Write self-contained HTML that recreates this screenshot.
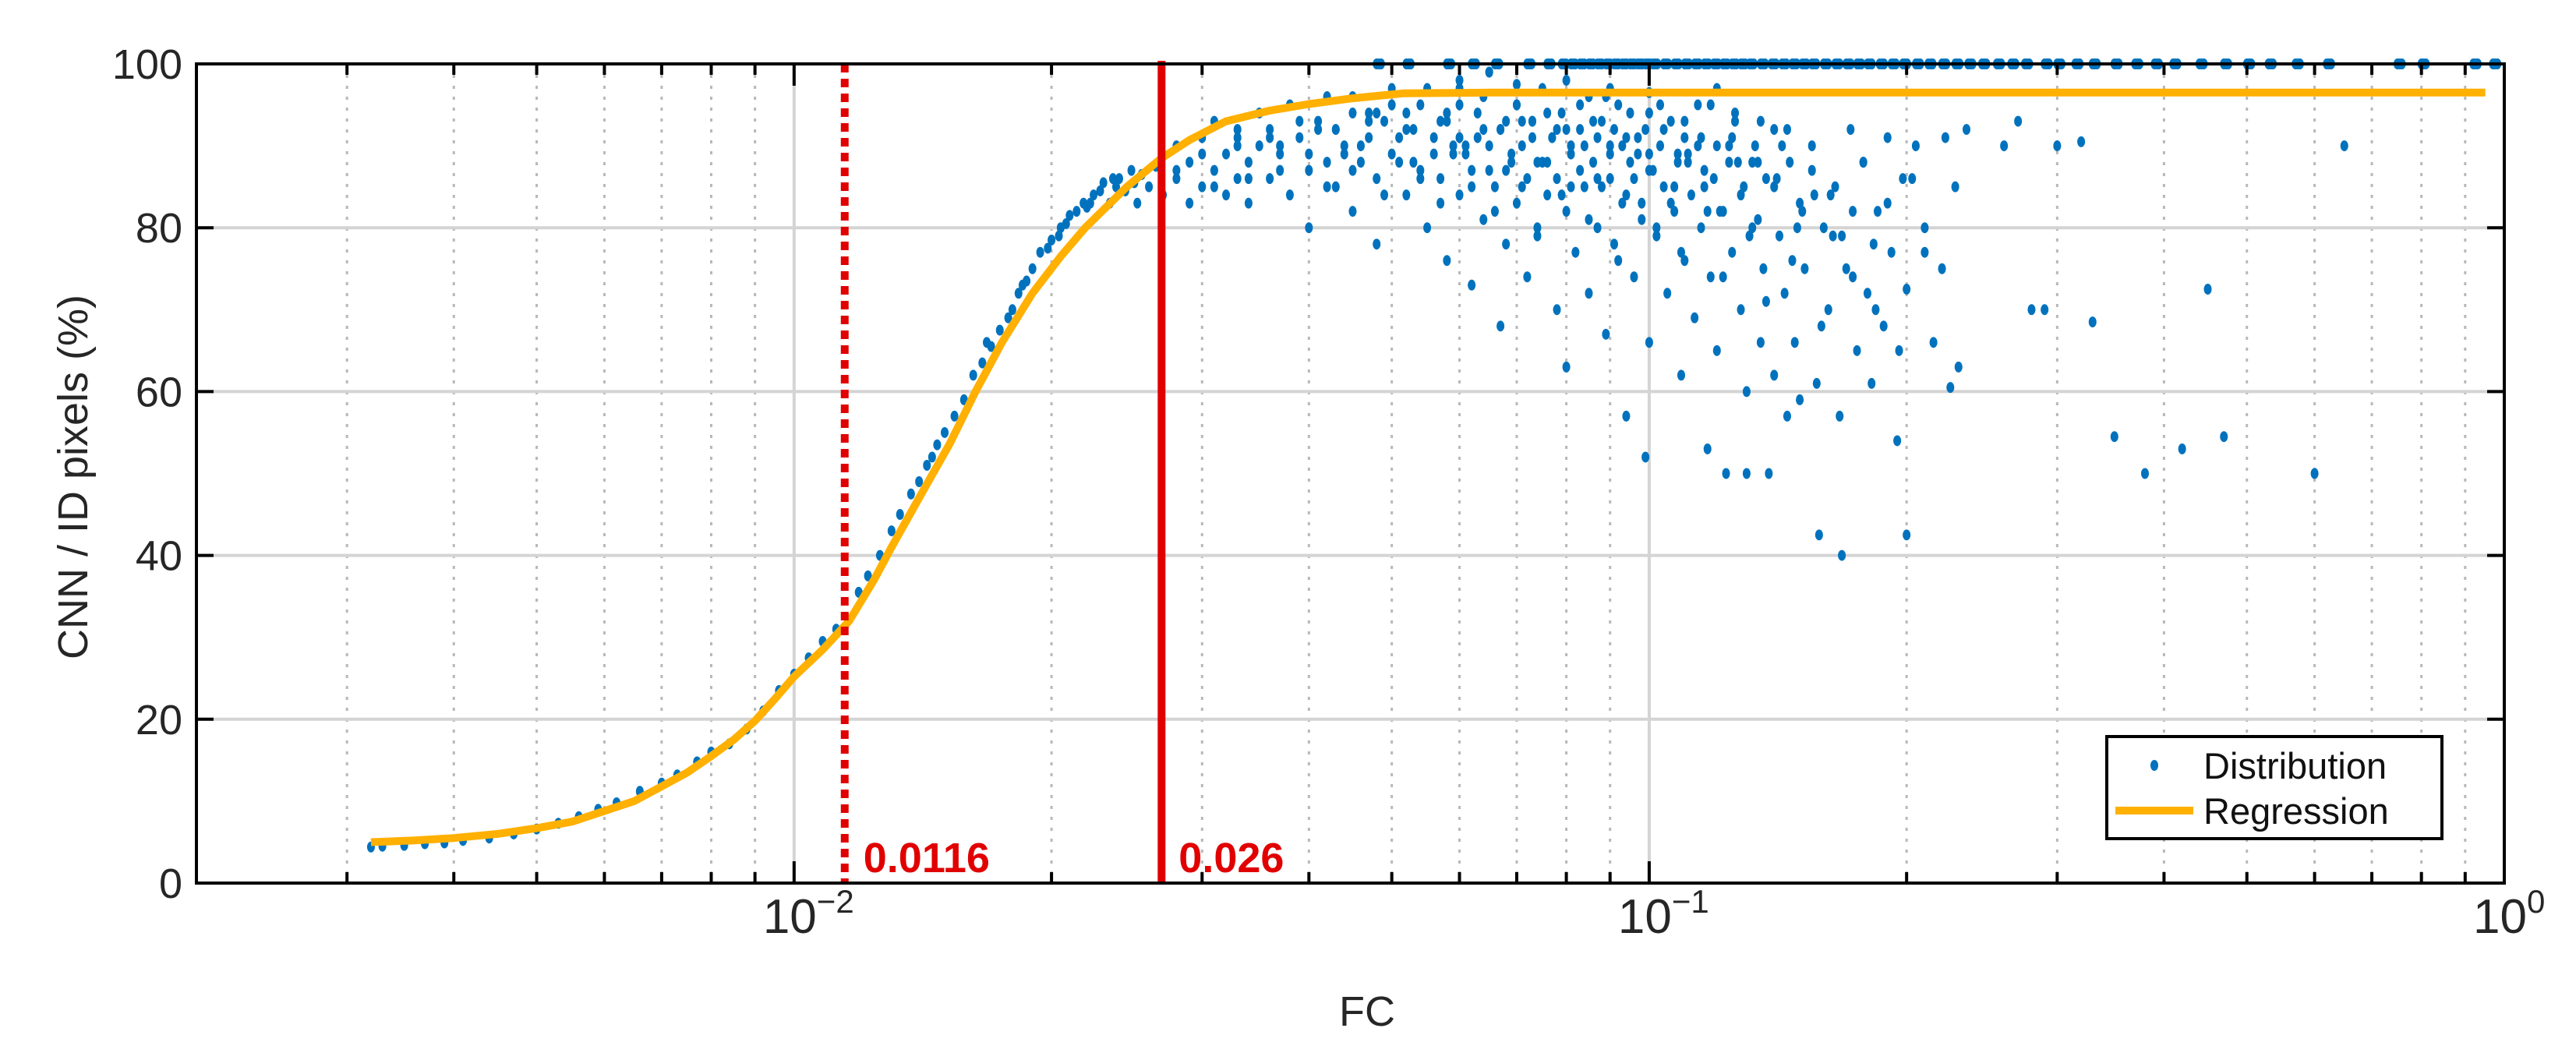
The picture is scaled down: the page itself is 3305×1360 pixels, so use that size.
<!DOCTYPE html>
<html><head><meta charset="utf-8"><style>
html,body{margin:0;padding:0;background:#fff}
svg{display:block}
text{font-family:"Liberation Sans",sans-serif}
</style></head><body>
<svg id="chart" xmlns="http://www.w3.org/2000/svg" width="3305" height="1360" viewBox="0 0 3305 1360">
<rect x="0" y="0" width="3305" height="1360" fill="#fff"/>
<g id="grid"></g>
<g id="marks"></g>
<g id="axes"></g>
<text x="0" y="0" transform="translate(112,612) rotate(-90)" text-anchor="middle" font-size="54" fill="#262626">CNN / ID pixels (%)</text>
<text x="1754" y="1316" text-anchor="middle" font-size="54" fill="#262626">FC</text>
<g>
<rect x="2703" y="945" width="430" height="131" fill="#fff" stroke="#000" stroke-width="4"/>
<ellipse cx="2764" cy="982" rx="5" ry="7" fill="#0072BD"/>
<text x="2827" y="999" font-size="47" fill="#111">Distribution</text>
<line x1="2714" y1="1040" x2="2814" y2="1040" stroke="#FFB000" stroke-width="10"/>
<text x="2827" y="1057" font-size="47" fill="#111">Regression</text>
</g>
</svg>
<script>
const X_MIN = 0.002, X_MAX = 1, Y_MIN = 0, Y_MAX = 100;
const yTicks = [0, 20, 40, 60, 80, 100];
const xMajor = [0.01, 0.1, 1];
const xMajorLabels = ["2", "1", "0"];
const xMinor = [0.003,0.004,0.005,0.006,0.007,0.008,0.009,0.02,0.03,0.04,0.05,0.06,0.07,0.08,0.09,0.2,0.3,0.4,0.5,0.6,0.7,0.8,0.9];
const threshLow = 0.01146, threshLowLabel = "0.0116";
const threshHigh = 0.0269, threshHighLabel = "0.026";
const curveFC = [0.0032,0.0036,0.004,0.0045,0.005,0.0055,0.006,0.0065,0.007,0.0075,0.008,0.0085,0.009,0.0095,0.01,0.0108,0.0116,0.0124,0.013,0.014,0.0152,0.0163,0.0175,0.019,0.0205,0.0219,0.0245,0.0269,0.029,0.032,0.036,0.04,0.045,0.0515,0.065,0.1,0.2,0.5,0.95];
const curvePct = [5,5.2,5.5,6,6.7,7.5,8.8,10,11.8,13.5,15.5,17.5,19.8,22.5,25.2,28.5,32,37,41,47,53.6,60,66,72,76.5,80,85,88.5,90.7,93,94.3,95.1,95.8,96.4,96.5,96.5,96.5,96.5,96.5];
const nearFC = [0.0032,0.0033,0.0035,0.0037,0.0039,0.0041,0.0044,0.0047,0.005,0.0053,0.0056,0.0059,0.0062,0.0066,0.007,0.0073,0.0077,0.008,0.0084,0.0088,0.0092,0.0096,0.01,0.0104,0.0108,0.0112,0.0119,0.0122,0.0126,0.013,0.0133,0.0137,0.014,0.0143,0.0147,0.015,0.0154,0.0158,0.0162,0.0166,0.017,0.0174,0.0178,0.018,0.0183,0.0187,0.019,0.0194,0.0198,0.02,0.0204,0.0208,0.021,0.0214,0.0218,0.022,0.0224,0.0228,0.023,0.0234,0.0238,0.024,0.0244,0.0248,0.025,0.0255,0.026,0.0265,0.0145,0.0168,0.0185,0.0205,0.0222,0.0236,0.0252];
const nearPct = [4.4,4.5,4.6,4.8,4.9,5.2,5.5,6,6.6,7.3,8.1,9,9.8,11.2,12.2,13.2,14.8,16,17,18.8,21,23.5,25.5,27.5,29.5,31,35.5,37.5,40,43,45,47.5,49,51,53.5,55,57,59,62,63.5,65.5,67.5,69,70,72,73.5,75,77,77.5,78.5,79,80.5,81.5,82,83,82.5,84,84.5,85.5,83,85,86,84.5,87,85.5,86.5,85,87.5,52,66,73,80,83,86,83];
const cloudFC = [0.027,0.028,0.028,0.029,0.029,0.03,0.03,0.031,0.031,0.032,0.032,0.033,0.033,0.034,0.034,0.035,0.035,0.036,0.036,0.037,0.038,0.038,0.039,0.04,0.04,0.041,0.042,0.042,0.043,0.044,0.045,0.045,0.046,0.047,0.048,0.048,0.049,0.05,0.05,0.052,0.052,0.053,0.054,0.055,0.056,0.057,0.058,0.058,0.059,0.06,0.06,0.061,0.062,0.062,0.063,0.064,0.065,0.065,0.066,0.067,0.067,0.068,0.069,0.07,0.07,0.071,0.072,0.072,0.073,0.074,0.075,0.075,0.076,0.077,0.078,0.078,0.079,0.08,0.08,0.081,0.082,0.083,0.084,0.085,0.085,0.086,0.087,0.088,0.089,0.09,0.09,0.091,0.092,0.093,0.094,0.095,0.096,0.097,0.098,0.099,0.1,0.1,0.1,0.102,0.103,0.104,0.105,0.106,0.107,0.108,0.109,0.11,0.11,0.112,0.113,0.114,0.115,0.116,0.117,0.118,0.12,0.12,0.122,0.123,0.124,0.125,0.126,0.128,0.129,0.13,0.13,0.132,0.133,0.135,0.136,0.137,0.138,0.14,0.14,0.142,0.144,0.145,0.146,0.148,0.15,0.15,0.152,0.155,0.157,0.158,0.16,0.162,0.165,0.167,0.168,0.17,0.172,0.175,0.178,0.18,0.182,0.185,0.188,0.19,0.192,0.195,0.198,0.2,0.2,0.205,0.21,0.215,0.22,0.222,0.225,0.228,0.23,0.235,0.26,0.27,0.28,0.3,0.33,0.35,0.38,0.42,0.45,0.47,0.6,0.65,0.29,0.32,0.045,0.055,0.06,0.065,0.07,0.08,0.09,0.1,0.12,0.033,0.037,0.041,0.044,0.047,0.051,0.054,0.057,0.061,0.064,0.068,0.071,0.074,0.077,0.081,0.084,0.087,0.091,0.094,0.097,0.101,0.106,0.111,0.116,0.121,0.127,0.134,0.141,0.149,0.156,0.164,0.173,0.183,0.194];
const cloudPct = [84,86,90,83,88,85,91,87,93,84,89,86,92,88,83,90,94,86,92,89,84,95,91,87,80,93,88,96,85,90,82,94,88,91,86,78,93,89,97,84,92,88,95,80,91,86,76,93,89,84,97,90,73,87,94,81,90,99,85,68,92,78,88,95,83,90,86,74,93,80,88,97,84,91,70,86,94,82,63,89,77,92,85,96,72,88,80,93,67,86,90,78,95,83,57,88,74,91,81,52,87,94,66,79,90,85,72,93,82,88,62,76,91,84,69,95,80,87,53,74,90,65,82,50,88,77,93,70,85,60,50,80,90,66,75,86,50,62,92,79,72,57,88,66,83,59,75,90,61,42.5,80,70,85,57,40,75,92,65,88,72,61,82,68,91,77,54,86,72.5,42.5,90,80,66,75,91,60.5,85,63,92,90,93,70,90,68.5,54.5,50,53,72.5,54.5,50,90,70,90.5,96,97,98,99,97.5,98,97,96.5,97,91,90,92,89,94,91,87,93,89,92,87,93,88,91,85,90,86,92,84,89,87,83,89,85,82,88,81,86,80,84,79,82,78];
const cloud2FC = [0.028,0.03,0.031,0.033,0.034,0.036,0.037,0.039,0.04,0.042,0.043,0.045,0.046,0.048,0.049,0.051,0.053,0.054,0.056,0.057,0.059,0.06,0.062,0.063,0.065,0.066,0.068,0.069,0.071,0.073,0.074,0.076,0.078,0.079,0.081,0.083,0.085,0.086,0.088,0.09,0.092,0.094,0.096,0.098,0.1,0.102,0.104,0.107,0.109,0.111,0.114,0.117,0.119,0.122,0.125,0.128,0.131,0.134,0.137,0.14,0.143,0.147,0.151,0.155,0.159,0.163,0.168,0.173,0.178,0.184,0.19,0.196,0.203,0.21,0.05,0.058,0.064,0.07,0.076,0.083,0.089,0.095,0.103,0.11,0.118,0.126,0.135,0.145,0.043,0.047,0.052,0.06,0.067,0.073,0.08,0.087,0.093,0.099,0.108,0.115,0.124,0.132];
const cloud2Pct = [87,89,85,90,86,91,87,93,89,85,92,87,90,94,84,88,92,86,89,83,90,95,85,91,87,82,93,89,85,91,79,88,92,84,90,87,81,93,85,89,76,91,86,83,89,80,92,85,77,88,90,82,86,74,91,84,79,88,71,85,90,76,82,87,68,84,79,74,88,70,83,65,86,77,95,94,96,95,94,95,96,94,95,93,95,94,93,92,92,93,94,91,92,93,92,91,90,92,89,91,90,88];
const topRowFC = [0.048,0.052,0.058,0.062,0.066,0.072,0.076,0.079,0.081,0.083,0.085,0.087,0.089,0.091,0.093,0.095,0.097,0.099,0.101,0.104,0.107,0.11,0.113,0.116,0.119,0.122,0.125,0.128,0.131,0.135,0.139,0.143,0.147,0.151,0.155,0.16,0.165,0.17,0.175,0.18,0.186,0.192,0.198,0.205,0.212,0.22,0.228,0.236,0.245,0.255,0.265,0.275,0.29,0.3,0.315,0.33,0.35,0.37,0.39,0.41,0.44,0.47,0.5,0.53,0.57,0.62,0.75,0.8,0.92,0.97];

const L = 252, R = 3213, T = 82, B = 1133;
const NS = "http://www.w3.org/2000/svg";
function xs(v){ return L + (Math.log10(v) - Math.log10(X_MIN)) / (Math.log10(X_MAX) - Math.log10(X_MIN)) * (R - L); }
function ys(v){ return B - (v - Y_MIN) / (Y_MAX - Y_MIN) * (B - T); }
function mk(tag, attrs, parent){
  const el = document.createElementNS(NS, tag);
  for (const k in attrs) el.setAttribute(k, attrs[k]);
  parent.appendChild(el);
  return el;
}
const grid = document.getElementById('grid');
const marks = document.getElementById('marks');
const axes = document.getElementById('axes');

xMinor.forEach(v => {
  const g = mk('line', {x1: xs(v), x2: xs(v), y1: T, y2: B, stroke: '#b8b8b8', 'stroke-width': 3, 'stroke-dasharray': '4 10'}, grid);
  
  
});
xMajor.slice(0, 2).forEach(v => {
  const g = mk('line', {x1: xs(v), x2: xs(v), y1: T, y2: B, stroke: '#d4d4d4', 'stroke-width': 4}, grid);
  
  
});
yTicks.slice(1, 5).forEach(v => {
  const g = mk('line', {x1: L, x2: R, y1: ys(v), y2: ys(v), stroke: '#d4d4d4', 'stroke-width': 4}, grid);
  
  
});

function dot(fc, p){
  if (typeof fc !== 'number' || typeof p !== 'number') return;
  const d = mk('ellipse', {cx: xs(fc), cy: ys(p), rx: 5, ry: 7, fill: '#0072BD'}, marks);
  
  
}
nearFC.forEach((v, i) => dot(v, nearPct[i]));
cloudFC.forEach((v, i) => dot(v, cloudPct[i]));
cloud2FC.forEach((v, i) => dot(v, cloud2Pct[i]));
topRowFC.forEach(v => { dot(v, 100); dot(v * 1.006, 100); dot(v * 1.012, 100); });

let dPath = '';
curveFC.forEach((v, i) => { dPath += (i ? 'L' : 'M') + xs(v).toFixed(1) + ',' + ys(curvePct[i]).toFixed(1); });
const curve = mk('path', {d: dPath, fill: 'none', stroke: '#FFB000', 'stroke-width': 10, 'stroke-linejoin': 'round'}, marks);



const tl = mk('line', {x1: xs(threshLow), x2: xs(threshLow), y1: T, y2: B, stroke: '#E00000', 'stroke-width': 10, 'stroke-dasharray': '11 8'}, marks);


const th = mk('line', {x1: xs(threshHigh), x2: xs(threshHigh), y1: T - 4, y2: B, stroke: '#E00000', 'stroke-width': 10}, marks);


const tlt = mk('text', {x: xs(threshLow) + 24, y: B - 14, 'font-size': 54, 'font-weight': 'bold', fill: '#E00000'}, marks);
tlt.textContent = threshLowLabel;


const tht = mk('text', {x: xs(threshHigh) + 22, y: B - 14, 'font-size': 54, 'font-weight': 'bold', fill: '#E00000'}, marks);
tht.textContent = threshHighLabel;



const box = mk('rect', {x: L, y: T, width: R - L, height: B - T, fill: 'none', stroke: '#000', 'stroke-width': 4}, axes);


yTicks.forEach(v => {
  const t1 = mk('line', {x1: L, x2: L + 22, y1: ys(v), y2: ys(v), stroke: '#000', 'stroke-width': 4}, axes);
  
  
  const t2 = mk('line', {x1: R - 22, x2: R, y1: ys(v), y2: ys(v), stroke: '#000', 'stroke-width': 4}, axes);
  
  
  const lab = mk('text', {x: L - 18, y: ys(v) + 19, 'text-anchor': 'end', 'font-size': 54, fill: '#262626'}, axes);
  lab.textContent = String(v);
  
  
});
xMinor.forEach(v => {
  const a = mk('line', {x1: xs(v), x2: xs(v), y1: B, y2: B - 14, stroke: '#000', 'stroke-width': 4}, axes);
  
  
  const b = mk('line', {x1: xs(v), x2: xs(v), y1: T, y2: T + 14, stroke: '#000', 'stroke-width': 4}, axes);
  
  
});
xMajor.forEach((v, i) => {
  const a = mk('line', {x1: xs(v), x2: xs(v), y1: B, y2: B - 28, stroke: '#000', 'stroke-width': 4}, axes);
  
  
  const b = mk('line', {x1: xs(v), x2: xs(v), y1: T, y2: T + 28, stroke: '#000', 'stroke-width': 4}, axes);
  
  
  const lab = mk('text', {x: xs(v) - 40, y: B + 64, 'font-size': 62, fill: '#262626', 'font-family': '"Liberation Serif", serif'}, axes);
  
  
  const base = document.createElementNS(NS, 'tspan');
  base.textContent = '10';
  lab.appendChild(base);
  const sup = document.createElementNS(NS, 'tspan');
  sup.setAttribute('dy', '-26');
  sup.setAttribute('font-size', '42');
  sup.textContent = (xMajorLabels[i] === '0' ? '' : '\u2212') + xMajorLabels[i];
  lab.appendChild(sup);
});
</script>
</body></html>
